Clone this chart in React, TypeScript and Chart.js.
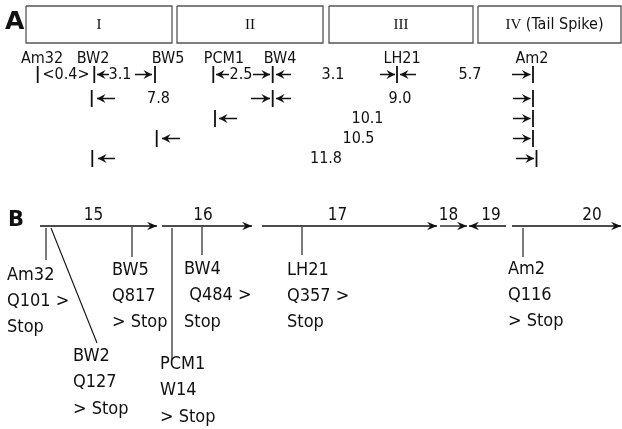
import React, { useEffect, useRef } from "react";
import { Chart, registerables } from "chart.js";

Chart.register(...registerables);

// ---------- Panel A : map segments (diagram units) ----------
const segLabels = ["I", "II", "III", "IV"];
const segSuffix = ["", "", "", " (Tail Spike)"];
const segStart = [26, 177, 329, 478];
const segEnd = [172, 323, 473, 621];
const segTop = 6;
const segBottom = 43;

// marker names over the distance ladder
const markerNames = ["Am32", "BW2", "BW5", "PCM1", "BW4", "LH21", "Am2"];
const markerX = [42, 93, 168, 224, 280, 402, 532];
const markerRowY = 58.5;

// distance ladder rows
const ladderY = [74.5, 98.5, 118.5, 138.5, 158.5];
const ladderBars = [
  [37.7, 94.3, 155, 213.3, 272.7, 397, 533],
  [91.7, 272.7, 533],
  [215, 533],
  [156.7, 533],
  [92.3, 536.5],
];
const ladderValues = [
  ["<0.4>", "3.1", "2.5", "3.1", "5.7"],
  ["7.8", "9.0"],
  ["10.1"],
  ["10.5"],
  ["11.8"],
];
const ladderValueX = [
  [66, 120, 241, 333, 470],
  [158.5, 400],
  [367.5],
  [358.5],
  [326],
];
// arrows: [tail, tip]
const ladderArrows = [
  [[109, 97], [135, 152], [229, 216], [253, 270], [291, 276], [380, 395], [416, 400], [512, 530.5]],
  [[115, 97], [251, 270], [291, 276], [513, 530.5]],
  [[237, 219], [513, 530.5]],
  [[180, 162], [513, 530.5]],
  [[115, 98], [516, 534]],
];

// ---------- Panel B : genes ----------
const geneNames = ["15", "16", "17", "18", "19", "20"];
const geneFrom = [40, 162, 262, 440, 506, 512];
const geneTo = [157, 252, 437, 467, 469, 621];
const geneLabelX = [93.5, 203, 337.5, 448.5, 491, 592];
const geneY = 226;
const geneLabelY = 216;

// mutations
const mutNames = ["Am32", "BW2", "BW5", "PCM1", "BW4", "LH21", "Am2"];
const mutTick = [
  [46, 228, 46, 260],
  [51, 228, 97, 343],
  [132, 227, 132, 257],
  [172, 228, 172, 360],
  [202, 227, 202, 255],
  [302, 227, 302, 255],
  [523, 228, 523, 257],
];
const mutLines = [
  ["Am32", "Q101 >", "Stop"],
  ["BW2", "Q127", "> Stop"],
  ["BW5", "Q817", "> Stop"],
  ["PCM1", "W14", "> Stop"],
  ["BW4", " Q484 >", "Stop"],
  ["LH21", "Q357 >", "Stop"],
  ["Am2", "Q116", "> Stop"],
];
const mutTextX = [7, 73, 112, 160, 184, 287, 508];
const mutTextY = [275, 356.5, 270, 364.5, 269.5, 270, 269];
const mutLineStep = 26.2;

const SANS = "'DejaVu Sans Condensed', 'Liberation Sans', sans-serif";
const SERIF = "'Liberation Serif', 'DejaVu Serif', serif";
const INK = "#111";

function seg(x0: number, y0: number, x1: number, y1: number, width = 1.2, color = INK) {
  return {
    data: [
      { x: x0, y: y0 },
      { x: x1, y: y1 },
    ],
    showLine: true,
    borderColor: color,
    borderWidth: width,
    pointRadius: 0,
    fill: false,
    borderCapStyle: "butt",
  };
}

function buildDatasets() {
  const ds: any[] = [];
  for (let i = 0; i < segLabels.length; i++) {
    ds.push({
      data: [
        { x: segStart[i], y: segTop },
        { x: segEnd[i], y: segTop },
        { x: segEnd[i], y: segBottom },
        { x: segStart[i], y: segBottom },
        { x: segStart[i], y: segTop },
      ],
      showLine: true,
      borderColor: "#555",
      borderWidth: 1.3,
      pointRadius: 0,
      fill: false,
    });
  }
  ladderY.forEach((yy, r) => {
    ladderBars[r].forEach((bx) => ds.push(seg(bx, yy - 8.5, bx, yy + 8.5, 1.8)));
    ladderArrows[r].forEach(([t, p]) => ds.push(seg(t, yy, p, yy, 1.5)));
  });
  geneNames.forEach((_, i) => ds.push(seg(geneFrom[i], geneY, geneTo[i], geneY, 1.3)));
  mutTick.forEach(([a, b, c, d]) => ds.push(seg(a, b, c, d, 1.1)));
  return ds;
}

function head(ctx: CanvasRenderingContext2D, tx: number, ty: number, dir: number, len: number, half: number) {
  ctx.beginPath();
  ctx.moveTo(tx, ty);
  ctx.lineTo(tx - dir * len, ty - half);
  ctx.lineTo(tx - dir * len * 0.65, ty);
  ctx.lineTo(tx - dir * len, ty + half);
  ctx.closePath();
  ctx.fill();
}

const diagramPlugin = {
  id: "diagram",
  afterDatasetsDraw(chart: any) {
    const ctx: CanvasRenderingContext2D = chart.ctx;
    const X = (v: number) => chart.scales.x.getPixelForValue(v);
    const Y = (v: number) => chart.scales.y.getPixelForValue(v);
    ctx.save();
    ctx.fillStyle = INK;
    ctx.textBaseline = "middle";

    // panel letters
    ctx.textAlign = "left";
    ctx.font = "bold 25px 'DejaVu Sans', 'Liberation Sans', sans-serif";
    ctx.fillText("A", X(5), Y(22));
    ctx.font = "bold 21px 'DejaVu Sans', 'Liberation Sans', sans-serif";
    ctx.fillText("B", X(8), Y(221));

    // box labels
    for (let i = 0; i < segLabels.length; i++) {
      const cx = (X(segStart[i]) + X(segEnd[i])) / 2;
      const cy = Y((segTop + segBottom) / 2);
      ctx.font = "15px " + SERIF;
      const w1 = ctx.measureText(segLabels[i]).width;
      ctx.font = "16px " + SANS;
      const w2 = segSuffix[i] ? ctx.measureText(segSuffix[i]).width : 0;
      let left = cx - (w1 + w2) / 2;
      if (segSuffix[i]) left += 5;
      ctx.font = "15px " + SERIF;
      ctx.fillText(segLabels[i], left, cy + 0.5);
      if (segSuffix[i]) {
        ctx.font = "16px " + SANS;
        ctx.fillText(segSuffix[i], left + w1, cy);
      }
    }

    // marker names
    ctx.font = "16px " + SANS;
    ctx.textAlign = "center";
    markerNames.forEach((n, i) => ctx.fillText(n, X(markerX[i]), Y(markerRowY)));

    // ladder values + arrowheads
    ladderY.forEach((yy, r) => {
      ladderValues[r].forEach((v, k) => ctx.fillText(v, X(ladderValueX[r][k]), Y(yy)));
      ladderArrows[r].forEach(([t, p]) => {
        const dir = p > t ? 1 : -1;
        head(ctx, X(p), Y(yy), dir, 8.5, 4.5);
      });
    });

    // gene labels + heads
    ctx.font = "17px " + SANS;
    geneNames.forEach((g, i) => {
      ctx.fillText(g, X(geneLabelX[i]), Y(geneLabelY));
      const dir = geneTo[i] > geneFrom[i] ? 1 : -1;
      head(ctx, X(geneTo[i]), Y(geneY), dir, 10, 4.3);
    });

    // mutation texts
    ctx.font = "18px " + SANS;
    ctx.textAlign = "left";
    mutNames.forEach((_, i) => {
      mutLines[i].forEach((line, k) => {
        ctx.fillText(line, X(mutTextX[i]), Y(mutTextY[i] + k * mutLineStep));
      });
    });
    ctx.restore();
  },
};

export default function App() {
  const ref = useRef<HTMLCanvasElement | null>(null);
  useEffect(() => {
    if (!ref.current) return;
    const chart = new Chart(ref.current, {
      type: "scatter",
      data: { datasets: buildDatasets() },
      options: {
        responsive: false,
        maintainAspectRatio: false,
        animation: false,
        events: [],
        layout: { padding: 0 },
        plugins: { legend: { display: false }, tooltip: { enabled: false } },
        scales: {
          x: { type: "linear", min: 0, max: 622, display: false },
          y: { type: "linear", min: 0, max: 429, reverse: true, display: false },
        },
      },
      plugins: [diagramPlugin],
    } as any);
    return () => chart.destroy();
  }, []);
  return (
    <div style={{ position: "fixed", left: 0, top: 0, width: 622, height: 429, background: "#fff" }}>
      <canvas ref={ref} width={622} height={429} />
    </div>
  );
}
